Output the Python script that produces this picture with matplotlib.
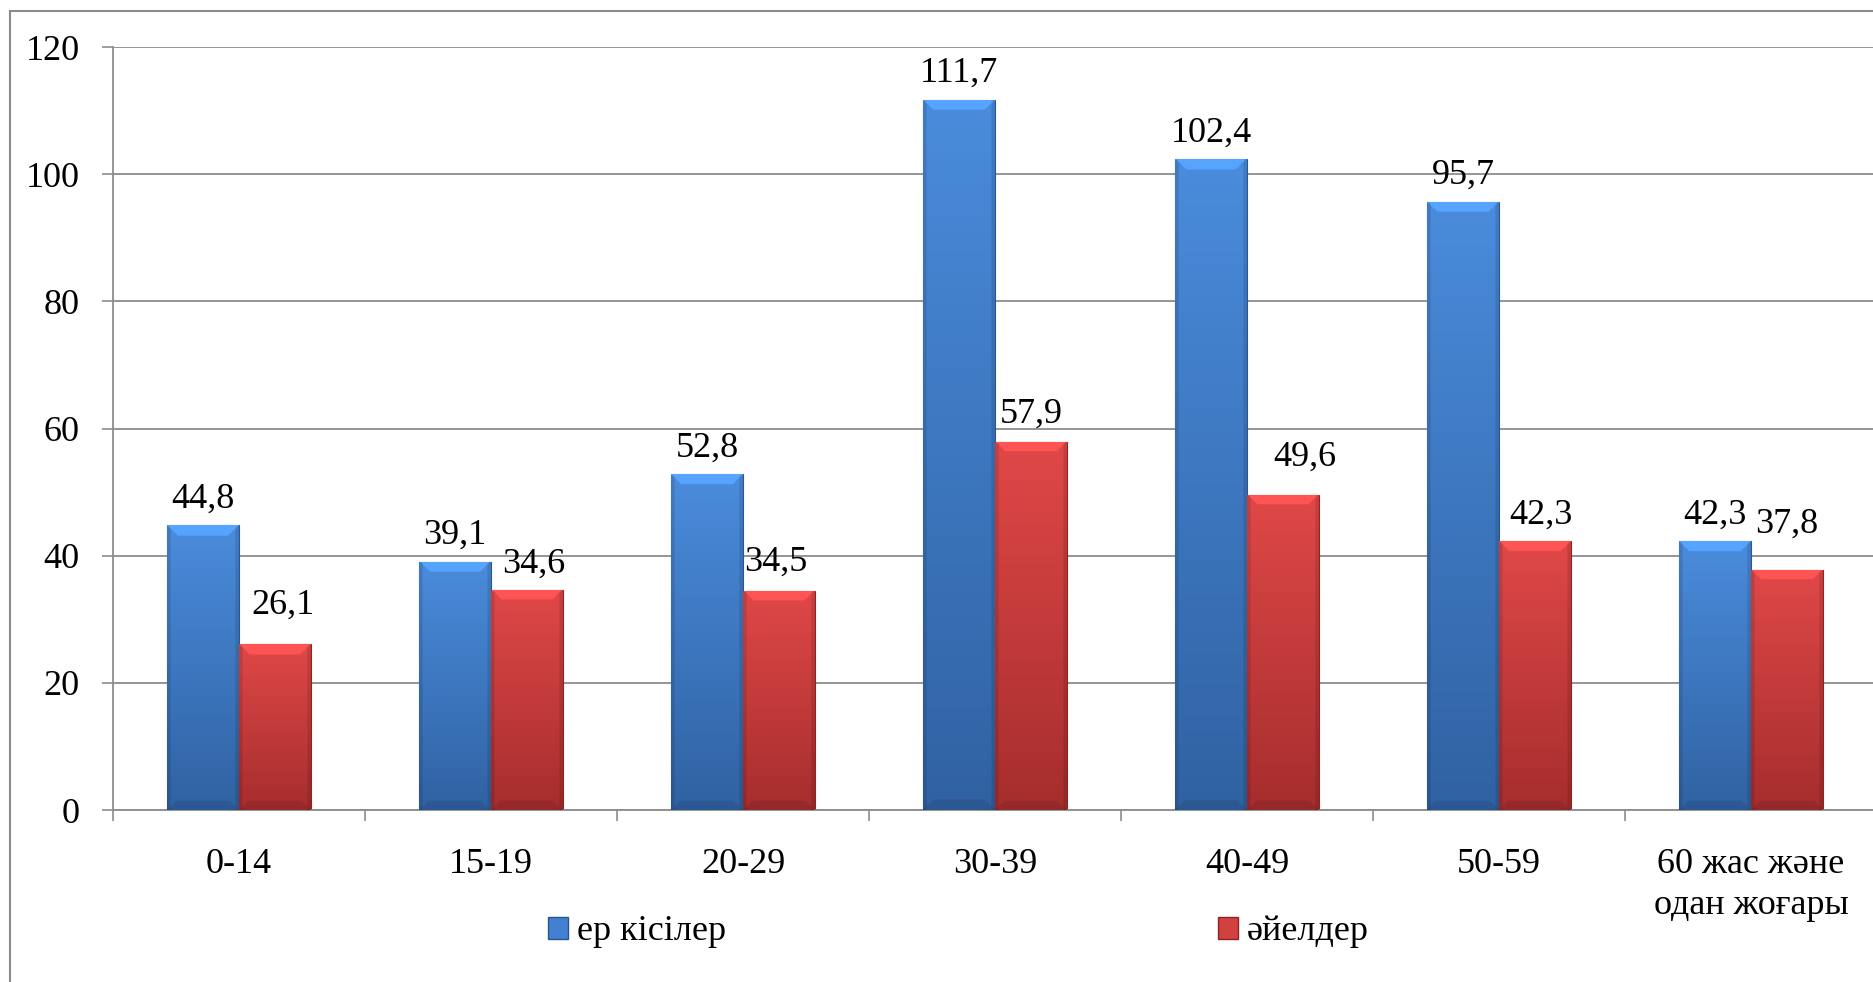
import numpy as np
import matplotlib
matplotlib.use('Agg')
from matplotlib import pyplot as plt
from matplotlib.colors import to_rgb
from matplotlib.patches import Rectangle, Patch

categories = ['0-14', '15-19', '20-29', '30-39', '40-49', '50-59', '60 жас және\nодан жоғары']
men = [44.8, 39.1, 52.8, 111.7, 102.4, 95.7, 42.3]
women = [26.1, 34.6, 34.5, 57.9, 49.6, 42.3, 37.8]
labels_men = ['44,8', '39,1', '52,8', '111,7', '102,4', '95,7', '42,3']
labels_women = ['26,1', '34,6', '34,5', '57,9', '49,6', '42,3', '37,8']
series_names = ['ер кісілер', 'әйелдер']

# label nudges (points)
women_dx = [6, 5, -2, 0, 16, 4, 0]
women_dy = [9, 0, 2, 1, 8, 0, 14]

FS = 26
plt.rcParams['font.family'] = ['Liberation Serif', 'DejaVu Serif']
plt.rcParams['font.size'] = FS

fig = plt.figure(figsize=(18.74, 9.82), dpi=100)
ax = fig.add_axes([0.0603, 0.175, 0.9413, 0.777])

# outer chart border
fig.patches.append(Rectangle((10 / 1874, -0.05), 1.1, 1 - 11 / 982 + 0.05,
                             transform=fig.transFigure, fill=False,
                             edgecolor='#8c8c8c', linewidth=1.5))

x = np.arange(len(categories))
w = 0.285


def shade(bar, top, bottom):
    x0, y0 = bar.get_x(), bar.get_y()
    bw, bh = bar.get_width(), bar.get_height()
    n, m = 400, 60
    px_h = max(bh / 120 * 763, 1)
    px_w = 72.0
    t = np.linspace(0, 1, n)[:, None]
    s = np.linspace(0, 1, m)[None, :]
    top = np.array(to_rgb(top))
    bottom = np.array(to_rgb(bottom))
    img = top * (1 - t[..., None]) + bottom * t[..., None]
    img = np.broadcast_to(img, (n, m, 3)).copy()
    ypx = np.broadcast_to(t * px_h, (n, m))
    xpx = np.broadcast_to(s * px_w, (n, m))
    side = np.minimum(xpx, px_w - xpx)
    # bevel: light top facet with mitred corners, darker sides and bottom
    topf = (ypx < 10) & (ypx <= side)
    sidef = (side < 3) & ~topf
    botf = ((px_h - ypx) < 9) & ((px_h - ypx) <= side) & ~topf
    img[topf] = img[topf] * 1.18
    img[sidef] = img[sidef] * 0.88
    img[botf] = img[botf] * 0.9
    img = np.clip(img, 0, 1)
    im = ax.imshow(img, extent=[x0, x0 + bw, y0, y0 + bh], aspect='auto',
                   origin='upper', zorder=3, interpolation='bilinear')
    im.set_clip_path(bar)


bars_m = ax.bar(x - w / 2, men, w, color='#3d7bcc', edgecolor='#2a5590',
                linewidth=0.8, zorder=2, label=series_names[0])
bars_w = ax.bar(x + w / 2, women, w, color='#cc3b3b', edgecolor='#8c2424',
                linewidth=0.8, zorder=2, label=series_names[1])
for b in bars_m:
    shade(b, '#4a8cdc', '#3062a2')
for b in bars_w:
    shade(b, '#e04848', '#a62d2d')

for i, b in enumerate(bars_m):
    ax.annotate(labels_men[i], (b.get_x() + b.get_width() / 2, b.get_height()),
                xytext=(0, 7), textcoords='offset points', ha='center', va='bottom',
                fontsize=FS, zorder=5)
for i, b in enumerate(bars_w):
    ax.annotate(labels_women[i], (b.get_x() + b.get_width() / 2, b.get_height()),
                xytext=(women_dx[i], 7 + women_dy[i]), textcoords='offset points',
                ha='center', va='bottom', fontsize=FS, zorder=5)

ax.set_xlim(-0.5, len(categories) - 0.5)
ax.set_ylim(0, 120)
ax.set_yticks(np.arange(0, 121, 20))
ax.set_xticks(x)
ax.set_xticklabels(categories, linespacing=1.35)
ax.set_xticks(np.arange(-0.5, len(categories), 1), minor=True)
ax.tick_params(axis='x', which='major', length=0, pad=27)
ax.tick_params(axis='x', which='minor', length=8, color='#8c8c8c', width=1.2)
ax.tick_params(axis='y', length=8, color='#8c8c8c', width=1.2, pad=16)
ax.grid(axis='y', color='#8c8c8c', linewidth=1.3, zorder=0)
ax.set_axisbelow(True)
for sp in ['top', 'right']:
    ax.spines[sp].set_visible(False)
for sp in ['left', 'bottom']:
    ax.spines[sp].set_color('#8c8c8c')
    ax.spines[sp].set_linewidth(1.3)

# one legend per entry so each can sit where the original has it
handles = [Patch(facecolor='#4280d2', edgecolor='#2a5590'),
           Patch(facecolor='#d24040', edgecolor='#8c2424')]
targets = [548, 1218]
legs = []
for h, name in zip(handles, series_names):
    lg = fig.legend([h], [name], loc='center left', bbox_to_anchor=(0.3, 0.051),
                    frameon=False, handlelength=0.55, handleheight=0.55,
                    handletextpad=0.25, fontsize=FS)
    legs.append(lg)
fig.canvas.draw()
for lg, tx in zip(legs, targets):
    hb = lg.legend_handles[0].get_window_extent()
    lx = 0.3 * 1874 + (tx - hb.x0)
    lg.set_bbox_to_anchor((lx / 1874, 0.051), transform=fig.transFigure)

fig.savefig('out.png', dpi=100)
